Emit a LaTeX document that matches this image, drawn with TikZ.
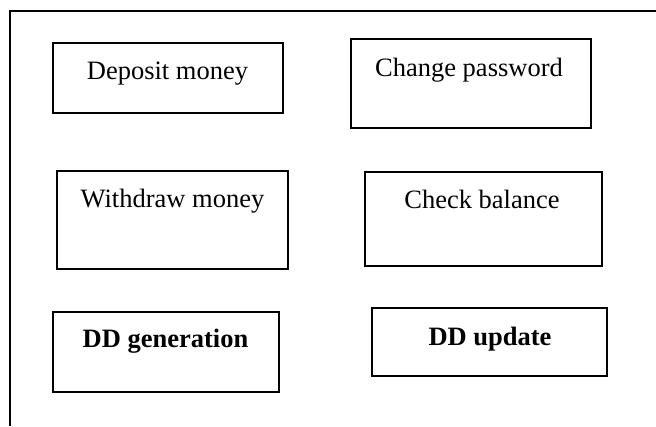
\documentclass[tikz,border=0pt]{standalone}
\usepackage{fontspec}
\setmainfont{Liberation Serif}
\begin{document}
\begin{tikzpicture}[x=1pt,y=-1pt,
  box/.style={draw,line width=1.4pt,inner sep=0pt},
  lbl/.style={anchor=base,inner sep=0pt,font=\fontsize{26.5}{30}\selectfont},
  blbl/.style={lbl,font=\fontsize{26.5}{30}\selectfont\bfseries}]
\useasboundingbox (0,0) rectangle (656,426);
\draw[line width=1.4pt] (656,11) -- (10,11) -- (10,426);
% boxes
\node[box,minimum width=230pt,minimum height=70pt] (b1) at (168,78) {};
\node[box,minimum width=240pt,minimum height=89pt] (b2) at (471,83.5) {};
\node[box,minimum width=231pt,minimum height=98pt] (b3) at (172.5,220) {};
\node[box,minimum width=237pt,minimum height=94pt] (b4) at (483.5,219) {};
\node[box,minimum width=226pt,minimum height=80pt] (b5) at (166,352) {};
\node[box,minimum width=235pt,minimum height=68pt] (b6) at (489.5,342) {};
% labels
\node[lbl] (t1) at (167.5,79) {Deposit money};
\node[lbl] (t2) at (469,76) {Change password};
\node[lbl] (t3) at (172.5,207) {Withdraw money};
\node[lbl] (t4) at (482,208) {Check balance};
\node[blbl] (t5) at (165.5,347) {DD generation};
\node[blbl] (t6) at (490,345) {DD update};
\end{tikzpicture}
\end{document}
